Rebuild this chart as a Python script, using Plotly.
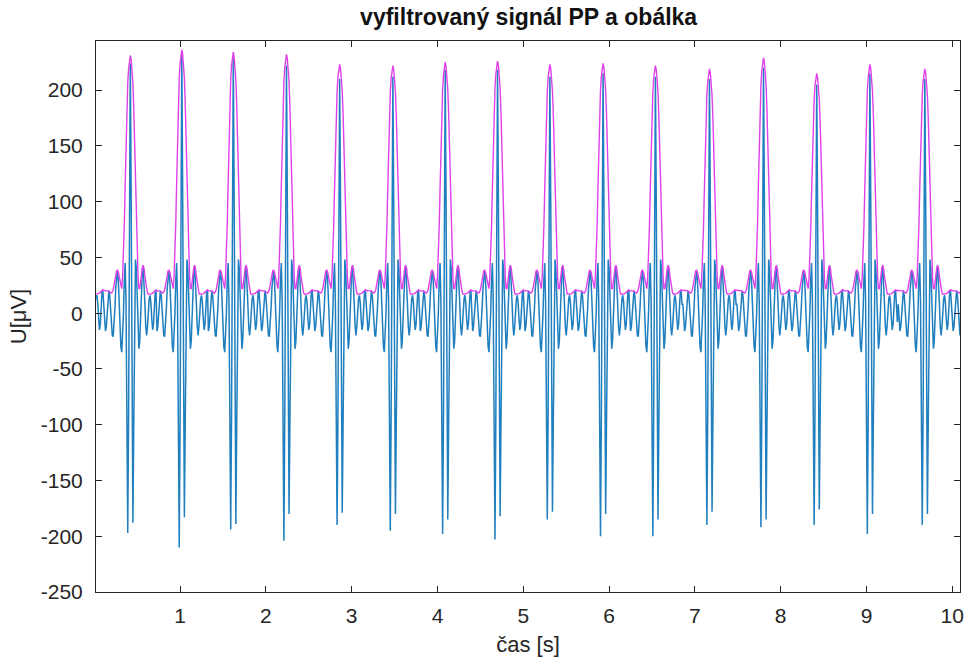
import numpy as np
import plotly.graph_objects as go

# ---------------- data ----------------
# R-peak times [s] (first and last are beats just outside the visible window)
beat_times = [-0.20, 0.42, 1.02, 1.62, 2.24, 2.86, 3.48, 4.09, 4.70, 5.31,
              5.93, 6.54, 7.17, 7.80, 8.42, 9.04, 9.68, 10.30]
# maximum of the filtered signal at each beat [uV]
sig_peak = [224, 224, 233, 228, 222, 210, 212, 218, 218, 212,
            215, 212, 210, 220, 205, 215, 210, 210]
# deepest negative spike before / after each R peak [uV]
sig_min1 = [-197, -197, -210, -194, -204, -190, -195, -198, -203, -185,
            -200, -200, -190, -192, -190, -198, -190, -190]
sig_min2 = [-188, -188, -183, -189, -180, -179, -180, -185, -182, -178,
            -180, -185, -178, -185, -176, -180, -180, -180]
# envelope maximum at each beat [uV]
env_peak = [231, 231, 236, 234, 232, 223, 222, 225, 226, 223,
            224, 222, 219, 229, 215, 223, 219, 219]

# one-beat shapes, 10 ms steps, offsets -0.32 .. +0.32 s
sig_shape = [20, 8, -8, -16, -12, 0, 14, 20, 16, 4,
             -10, -20, -21, -12, 4, 22, 34, 38, 30, 10,
             -14, -30, -35, -22, 0, 30, 45, 10, -100, -195,
             -90, 95,
             225,
             105, -80, -185, -100, 15, 48, 40, 10, -20, -32,
             -25, -2, 22, 38, 42, 30, 8, -12, -20, -12,
             3, 13, 16, 9, -5, -15, -10, 6, 19, 20, 8, -8]
env_shape = [21, 20.5, 20, 20, 20, 20, 20, 20, 19, 18,
             18, 19, 21, 25, 30, 35, 38, 38.5, 37, 33,
             28, 24, 22, 33, 52, 80, 115, 152, 185, 207,
             220, 228,
             232,
             228, 220, 207, 185, 152, 115, 80, 52, 33, 22,
             22, 28, 36, 41, 43, 40, 33, 26, 21, 18,
             17, 17, 17, 17, 17.5, 18, 19, 20, 21, 21, 20.5, 20]

T_START, T_END, DT = 0.02, 10.09, 0.01
x_ticks = [1, 2, 3, 4, 5, 6, 7, 8, 9, 10]
y_ticks = [-250, -200, -150, -100, -50, 0, 50, 100, 150, 200]
y_tick_text = ["-250", "-200", "-150", "-100", "-50", "0", "50", "100", "150", "200"]

# ---------------- build the traces from the beats ----------------
t = np.round(np.arange(T_START, T_END + 1e-9, DT), 4)
bt = np.array(beat_times)
idx = np.abs(t[:, None] - bt[None, :]).argmin(axis=1)
half = (len(sig_shape) - 1) // 2
off = np.clip(np.round((t - bt[idx]) / DT).astype(int), -half, half)
sig = np.array(sig_shape, dtype=float)[off + half]
env = np.array(env_shape, dtype=float)[off + half]

qrs = np.abs(off) <= 5
pos = qrs & (sig > 0)
sig[pos] *= np.array(sig_peak)[idx[pos]] / 225.0
pre = qrs & (off < 0) & (sig < 0)
sig[pre] *= np.array(sig_min1)[idx[pre]] / -195.0
post = qrs & (off > 0) & (sig < 0)
sig[post] *= np.array(sig_min2)[idx[post]] / -185.0
eq = np.abs(off) <= 9
env[eq] *= np.array(env_peak)[idx[eq]] / 232.0

FONT = "Liberation Sans, Arial, sans-serif"
AX = "#262626"

fig = go.Figure()
fig.add_trace(go.Scatter(x=t, y=sig, mode="lines",
                         line=dict(color="#1f7fbf", width=1.5),
                         showlegend=False, hoverinfo="skip"))
fig.add_trace(go.Scatter(x=t, y=env, mode="lines",
                         line=dict(color="#e040ea", width=1.4),
                         showlegend=False, hoverinfo="skip"))

fig.update_layout(
    width=970, height=659,
    margin=dict(l=96, r=6, t=41, b=66),
    paper_bgcolor="white", plot_bgcolor="white",
    font=dict(family=FONT, color=AX, size=21),
    title=dict(text="<b>vyfiltrovaný signál PP a obálka</b>",
               x=0.545, xanchor="center", y=0.974, yanchor="middle",
               font=dict(family=FONT, size=23, color="#111111")),
)
fig.update_xaxes(range=[T_START, T_END], tickvals=x_ticks,
                 ticks="inside", ticklen=6, tickcolor=AX, tickwidth=1,
                 showline=True, linecolor=AX, linewidth=1, mirror="ticks",
                 showgrid=False, zeroline=False,
                 tickfont=dict(size=21, color=AX), ticklabelstandoff=5,
                 title=dict(text="čas [s]", font=dict(size=22, color=AX), standoff=10))
fig.update_yaxes(range=[-250, 244], tickvals=y_ticks, ticktext=y_tick_text,
                 ticks="inside", ticklen=6, tickcolor=AX, tickwidth=1,
                 showline=True, linecolor=AX, linewidth=1, mirror="ticks",
                 showgrid=False, zeroline=False,
                 tickfont=dict(size=21, color=AX), ticklabelstandoff=8,
                 title=dict(text="U[μV]", font=dict(size=22, color=AX), standoff=8))

fig.write_html("out.html")
